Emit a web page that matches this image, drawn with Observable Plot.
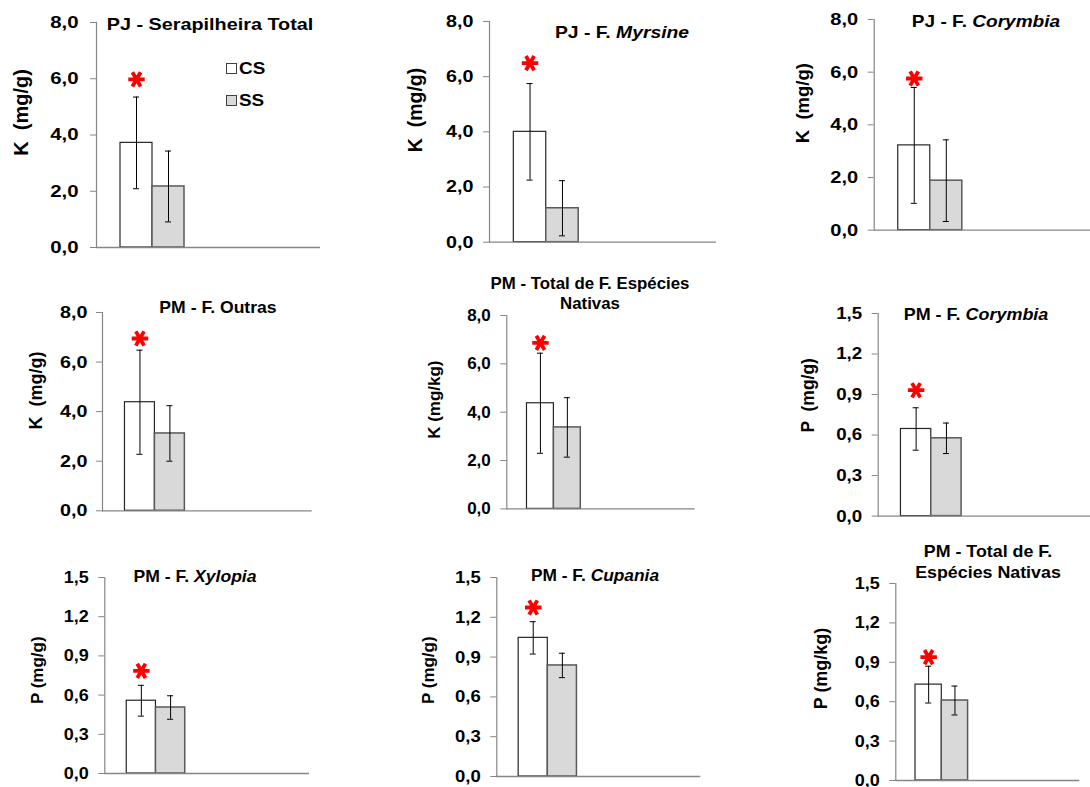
<!DOCTYPE html>
<html>
<head>
<meta charset="utf-8">
<script src="https://cdn.jsdelivr.net/npm/d3@7"></script>
<script src="https://cdn.jsdelivr.net/npm/@observablehq/plot@0.6"></script>
<style>
  html, body { margin: 0; padding: 0; background: #fff; overflow: hidden; }
  #board {
    position: relative; width: 1090px; height: 787px; overflow: hidden;
    font-family: "Liberation Sans", Arial, sans-serif; font-weight: bold; color: #000;
  }
  #board svg { position: absolute; }
  .title {
    position: absolute; white-space: nowrap; font-size: 16.5px; line-height: 20.5px;
    text-align: center; transform-origin: 50% 50%;
  }
  .legend-item {
    position: absolute; height: 20px; line-height: 20px; display: flex; align-items: center;
    font-size: 16px; white-space: nowrap;
  }
  .legend-item .swatch { width: 9px; height: 9px; border: 1px solid #404040; margin-right: 2px; }
  .legend-item span { display: inline-block; transform: scaleX(1.18); transform-origin: 0 50%; }
</style>
</head>
<body>
<div id="board"></div>
<script>
// Treatments
const series = ["CS", "SS"];

// Panel titles (italic genus names) and y-axis labels
const titles = [
  "PJ - Serapilheira Total",
  "PJ - F. <i>Myrsine</i>",
  "PJ - F. <i>Corymbia</i>",
  "PM - F. Outras",
  "PM - Total de F. Espécies<br>Nativas",
  "PM - F. <i>Corymbia</i>",
  "PM - F. <i>Xylopia</i>",
  "PM - F. <i>Cupania</i>",
  "PM - Total de F.<br>Espécies Nativas"
];
const yLabels = [
  "K  (mg/g)", "K  (mg/g)", "K  (mg/g)",
  "K  (mg/g)", "K (mg/kg)", "P  (mg/g)",
  "P (mg/g)", "P (mg/g)", "P (mg/kg)"
];

// Means and error-bar half widths per panel
const csMean = [3.72, 4.00, 3.22, 4.38, 4.37, 0.645, 0.557, 1.045, 0.730];
const csErr  = [1.63, 1.75, 2.20, 2.10, 2.07, 0.157, 0.118, 0.122, 0.140];
const ssMean = [2.17, 1.23, 1.88, 3.12, 3.37, 0.576, 0.505, 0.837, 0.609];
const ssErr  = [1.26, 1.00, 1.55, 1.12, 1.23, 0.113, 0.090, 0.092, 0.110];
// Height of the significance asterisk above the CS bar
const starY  = [5.98, 6.49, 5.76, 6.95, 6.87, 0.932, 0.785, 1.274, 0.939];

// Tick values
const kTicks = [0, 2, 4, 6, 8];
const pTicks = [0, 0.3, 0.6, 0.9, 1.2, 1.5];
const panelTicks = [kTicks, kTicks, kTicks, kTicks, kTicks, pTicks, pTicks, pTicks, pTicks];

// Panel geometry on the page: svg left edge, y-axis x, top/bottom of the value range,
// end of the x-axis line, plus label/title placement and horizontal text widening.
const layout = [
  {left: 0,   ax: 96,    yt: 22,    yb: 247,   xe: 320,    pad: 12, tw: 1.2,  lab: {x: 13.3,  y: 112,   size: 20},   ti: {x: 210,   y: 23.7,  w: 1.2}},
  {left: 363, ax: 489,   yt: 21,    yb: 241.7, xe: 716,    pad: 10, tw: 1.16, lab: {x: 408,   y: 109.5, size: 19.5}, ti: {x: 622,   y: 32.2,  w: 1.17}},
  {left: 726, ax: 873.7, yt: 19.3,  yb: 230,   xe: 1098,   pad: 10, tw: 1.18, lab: {x: 795.3, y: 103,   size: 18.5}, ti: {x: 986,   y: 21.2,  w: 1.155}},
  {left: 0,   ax: 102,   yt: 312,   yb: 510.3, xe: 311.7,  pad: 9,  tw: 1.16, lab: {x: 28.3,  y: 390,   size: 18},   ti: {x: 218,   y: 307.2, w: 1.066}},
  {left: 363, ax: 506.3, yt: 315.3, yb: 508.7, xe: 694.7,  pad: 10, tw: 1.0,  lab: {x: 427.3, y: 399.5, size: 17},   ti: {x: 590,   y: 292.8, w: 1.02}},
  {left: 726, ax: 877.7, yt: 312.7, yb: 515.3, xe: 1090,   pad: 10, tw: 1.1,  lab: {x: 801,   y: 394.5, size: 17.5}, ti: {x: 976,   y: 313.5, w: 1.088}},
  {left: 0,   ax: 104.3, yt: 577.3, yb: 773.3, xe: 309,    pad: 10, tw: 1.06, lab: {x: 30,    y: 670,   size: 17},   ti: {x: 195.2, y: 575.5, w: 1.065}},
  {left: 363, ax: 496.3, yt: 577.3, yb: 776.3, xe: 700.3,  pad: 10, tw: 1.09, lab: {x: 421.3, y: 670,   size: 17},   ti: {x: 594.7, y: 574.8, w: 1.05}},
  {left: 726, ax: 895.3, yt: 583,   yb: 780,   xe: 1079.3, pad: 10, tw: 1.06, lab: {x: 813.3, y: 668,   size: 18},   ti: {x: 988,   y: 561,   w: 1.08}}
];

const axisGray = "#868686";
const fills = {CS: "#ffffff", SS: "#d9d9d9"};
const strokes = {CS: "#262626", SS: "#595959"};
const strokeWidths = {CS: 1.2, SS: 1.5};
const fmt = d => d.toFixed(1).replace(".", ",");

const board = document.getElementById("board");

layout.forEach((L, i) => {
  const rows = series.map((s, j) => ({
    series: s,
    mean: j ? ssMean[i] : csMean[i],
    err: j ? ssErr[i] : csErr[i],
    star: j ? null : starY[i]
  }));
  const ticks = panelTicks[i];
  const mTop = 14, mBottom = 10, mRight = 2;
  const width = L.xe - L.left + mRight;
  const height = L.yb - L.yt + mTop + mBottom;
  const band = (L.xe - L.ax) / 7;
  const capInset = band / 2 - 3;

  const barMarks = series.map(s =>
    Plot.barY(rows.filter(d => d.series === s), {
      x: "series", y: "mean", fill: fills[s], stroke: strokes[s], strokeWidth: strokeWidths[s]
    })
  );

  const chart = Plot.plot({
    width, height,
    marginLeft: L.ax - L.left, marginRight: mRight, marginTop: mTop, marginBottom: mBottom,
    style: {
      fontFamily: '"Liberation Sans", Arial, sans-serif', fontWeight: "bold",
      fontSize: "17px", color: "#000", background: "transparent", overflow: "visible"
    },
    x: {type: "band", domain: series, paddingInner: 0, paddingOuter: 2.5, align: 0.15, round: false, axis: null},
    y: {domain: [0, d3.max(ticks)]},
    marks: [
      Plot.frame({anchor: "left", stroke: axisGray, strokeWidth: 1.2}),
      Plot.axisY({ticks, tickFormat: fmt, tickSize: 6, tickPadding: L.pad, stroke: axisGray, fill: "#000", label: null}),
      ...barMarks,
      Plot.ruleY([0], {stroke: axisGray, strokeWidth: 1.3}),
      Plot.ruleX(rows, {x: "series", y1: d => d.mean - d.err, y2: d => d.mean + d.err, stroke: "#000", strokeWidth: 1}),
      Plot.tickY(rows, {x: "series", y: d => d.mean + d.err, insetLeft: capInset, insetRight: capInset, stroke: "#000", strokeWidth: 1}),
      Plot.tickY(rows, {x: "series", y: d => d.mean - d.err, insetLeft: capInset, insetRight: capInset, stroke: "#000", strokeWidth: 1}),
      Plot.dot(rows.filter(d => d.star != null), {
        x: "series", y: "star", symbol: "asterisk", r: 7.8, rotate: 90, stroke: "#ff0000", strokeWidth: 3.8
      }),
      Plot.text([yLabels[i]], {
        text: d => d, frameAnchor: "left", rotate: -90, textAnchor: "middle", lineAnchor: "top",
        dx: L.lab.x - L.ax, dy: L.lab.y - (L.yt + L.yb) / 2,
        fontSize: L.lab.size, fontWeight: "bold", fill: "#000"
      })
    ]
  });

  // widen the tick labels around their right-aligned anchor
  chart.querySelectorAll('g[aria-label="y-axis tick label"] text').forEach(t => {
    const tr = t.getAttribute("transform") || "";
    t.setAttribute("transform", `${tr} scale(${L.tw},1)`);
  });

  chart.style.left = `${L.left}px`;
  chart.style.top = `${L.yt - mTop}px`;
  board.appendChild(chart);

  const title = document.createElement("div");
  title.className = "title";
  title.innerHTML = titles[i];
  title.style.left = `${L.ti.x}px`;
  title.style.top = `${L.ti.y}px`;
  title.style.transform = `translate(-50%, -50%) scaleX(${L.ti.w})`;
  board.appendChild(title);
});

// Treatment key in the first panel
const legendRows = [{s: "CS", y: 68.6}, {s: "SS", y: 100.5}];
legendRows.forEach(({s, y}) => {
  const item = document.createElement("div");
  item.className = "legend-item";
  item.style.left = "226px";
  item.style.top = `${y - 10}px`;
  item.innerHTML = `<div class="swatch" style="background:${fills[s]}"></div><span>${s}</span>`;
  board.appendChild(item);
});
</script>
</body>
</html>
